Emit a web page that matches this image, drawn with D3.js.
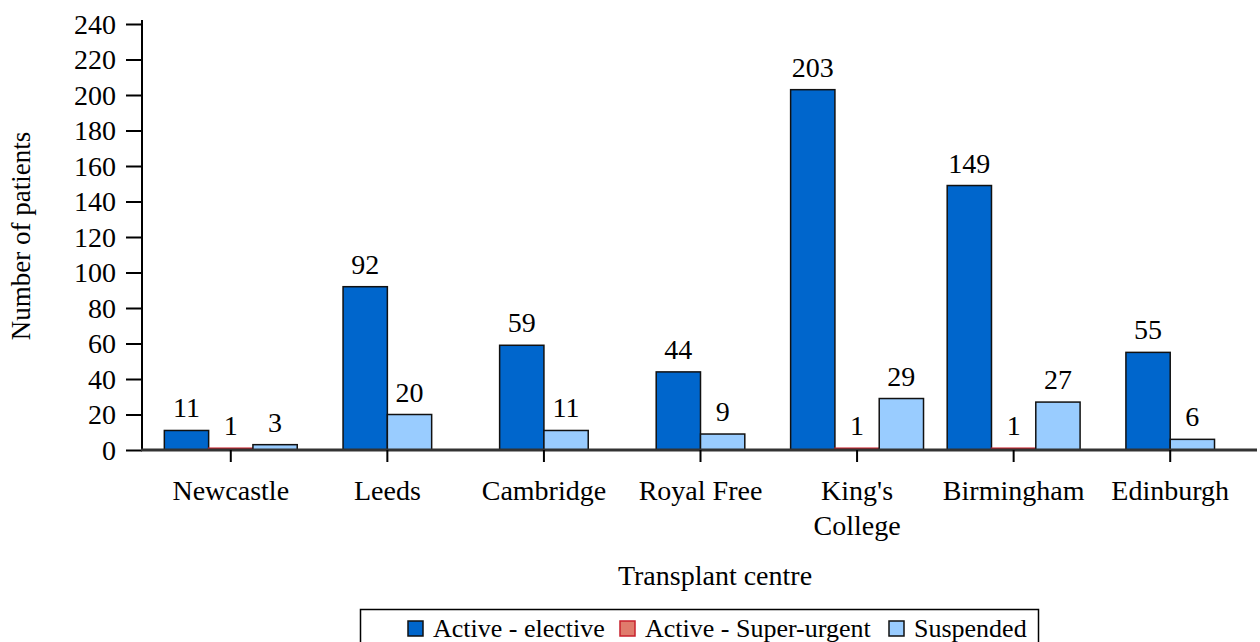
<!DOCTYPE html>
<html><head><meta charset="utf-8">
<script src="https://cdn.jsdelivr.net/npm/d3@7"></script>
<style>body{margin:0;background:#fff}svg{display:block}svg text{font-family:"Liberation Serif","Tinos","Times New Roman","DejaVu Serif","Noto Serif",Times,serif !important;fill:#000}</style>
</head><body>
<svg id="c" width="1260" height="642"></svg>
<script>
const categories = ["Newcastle","Leeds","Cambridge","Royal Free","King's College","Birmingham","Edinburgh"];
const categoryLines = [["Newcastle"],["Leeds"],["Cambridge"],["Royal Free"],["King's","College"],["Birmingham"],["Edinburgh"]];
const seriesNames = ["Active - elective","Active - Super-urgent","Suspended"];
const elective = [11,92,59,44,203,149,55];
const superUrgent = [1,0,0,0,1,1,0];
const suspended = [3,20,11,9,29,27,6];
const yTicks = [0,20,40,60,80,100,120,140,160,180,200,220,240];
const fills = ["#0066CC","#E07B6C","#99CCFF"];
const strokes = ["#111","#C8202C","#111"];

const svg = d3.select("#c");
const FS = 28;
const x = d3.scaleBand().domain(categories).range([152.5,1248.5]).padding(0);
const y = d3.scaleLinear().domain([0,240]).range([450,24]);
const barW = 44.3;
const series = [elective, superUrgent, suspended];

categories.forEach((c,i)=>{
  const present = [0,1,2].filter(s=>series[s][i]>0);
  const cx = x(c)+x.bandwidth()/2;
  const start = cx - present.length*barW/2;
  present.forEach((s,k)=>{
    const v = series[s][i];
    const bx = start + k*barW;
    svg.append("rect").attr("x",bx).attr("y",y(v)).attr("width",barW).attr("height",y(0)-y(v))
      .attr("fill",fills[s]).attr("stroke",strokes[s]).attr("stroke-width",1.5);
    svg.append("text").attr("x",bx+barW/2).attr("y",y(v)-13).attr("text-anchor","middle")
      .attr("font-size",FS).text(v);
  });
});

const yAxis = d3.axisLeft(y).tickValues(yTicks).tickSize(16).tickPadding(10);
const gy = svg.append("g").attr("transform","translate(142,0)").call(yAxis);
gy.attr("font-family",null);
gy.select(".domain").attr("d","M0,20V451").attr("stroke","#000").attr("stroke-width",2);
gy.selectAll(".tick line").attr("stroke","#000").attr("stroke-width",2);
gy.selectAll(".tick text").attr("font-size",FS).attr("fill","#000").attr("dy","0.33em");

const xAxis = d3.axisBottom(x).tickSize(12).tickFormat("");
const gx = svg.append("g").attr("transform","translate(0,450)").call(xAxis);
gx.select(".domain").attr("d","M141,0H1257").attr("stroke","#333").attr("stroke-width",3);
gx.selectAll(".tick line").attr("stroke","#000").attr("stroke-width",2);
categories.forEach((c,i)=>{
  const t = svg.append("text").attr("x",x(c)+x.bandwidth()/2).attr("y",500).attr("text-anchor","middle").attr("font-size",FS);
  categoryLines[i].forEach((ln,j)=>t.append("tspan").attr("x",x(c)+x.bandwidth()/2).attr("dy",j===0?0:35).text(ln));
});

svg.append("text").attr("x",715).attr("y",585).attr("text-anchor","middle").attr("font-size",28).text("Transplant centre");
svg.append("text").attr("transform","translate(30,236) rotate(-90)").attr("text-anchor","middle").attr("font-size",27).text("Number of patients");

svg.append("rect").attr("x",360.5).attr("y",609.5).attr("width",678).attr("height",45).attr("fill","none").attr("stroke","#000").attr("stroke-width",1.5);
const legX = [408,620,889];
seriesNames.forEach((n,s)=>{
  svg.append("rect").attr("x",legX[s]).attr("y",621).attr("width",15).attr("height",15)
    .attr("fill",fills[s]).attr("stroke",strokes[s]).attr("stroke-width",1.5);
  svg.append("text").attr("x",legX[s]+25).attr("y",637).attr("font-size",26).text(n);
});
</script>
</body></html>
